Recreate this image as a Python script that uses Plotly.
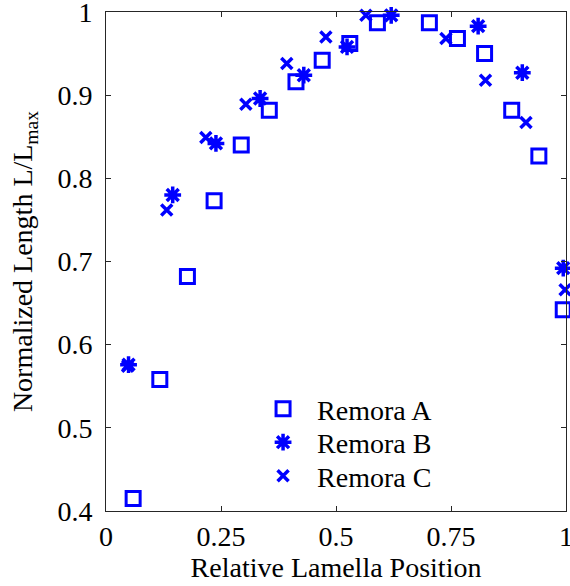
import plotly.graph_objects as go

# Remora A (squares)
a_x = [0.059, 0.117, 0.177, 0.235, 0.294, 0.355, 0.413, 0.470, 0.530, 0.590, 0.703, 0.764, 0.823, 0.882, 0.941, 0.994]
a_y = [0.415, 0.558, 0.682, 0.773, 0.840, 0.882, 0.916, 0.942, 0.962, 0.987, 0.987, 0.968, 0.950, 0.882, 0.827, 0.642]
# Remora B (asterisks)
b_x = [0.049, 0.145, 0.239, 0.335, 0.430, 0.524, 0.620, 0.809, 0.905, 0.994]
b_y = [0.576, 0.780, 0.842, 0.896, 0.924, 0.958, 0.996, 0.983, 0.927, 0.692]
# Remora C (crosses)
c_x = [0.047, 0.132, 0.217, 0.304, 0.393, 0.478, 0.565, 0.739, 0.825, 0.913, 0.998]
c_y = [0.574, 0.762, 0.849, 0.889, 0.938, 0.970, 0.996, 0.968, 0.918, 0.867, 0.666]

x_ticks = [0, 0.25, 0.5, 0.75, 1]
x_tick_labels = ["0", "0.25", "0.5", "0.75", "1"]
y_ticks = [0.4, 0.5, 0.6, 0.7, 0.8, 0.9, 1.0]
y_tick_labels = ["0.4", "0.5", "0.6", "0.7", "0.8", "0.9", "1"]

BLUE = "rgb(0,0,255)"
FONT = "Liberation Serif"
FS = 28

fig = go.Figure()
fig.add_trace(go.Scatter(x=a_x, y=a_y, mode="markers", name="Remora A", cliponaxis=False, legend="legend",
                         marker=dict(symbol="square-open", size=14, color=BLUE, line=dict(width=3, color=BLUE))))
fig.add_trace(go.Scatter(x=b_x, y=b_y, mode="markers", name="Remora B", cliponaxis=False, legend="legend2",
                         marker=dict(symbol="asterisk-open", size=14, color=BLUE, line=dict(width=3.5, color=BLUE))))
fig.add_trace(go.Scatter(x=c_x, y=c_y, mode="markers", name="Remora C", cliponaxis=False, legend="legend3",
                         marker=dict(symbol="x-thin-open", size=11, color=BLUE, line=dict(width=3.5, color=BLUE))))

axis_common = dict(showline=True, linecolor="#262626", linewidth=1, mirror="ticks",
                   ticks="inside", ticklen=5, tickcolor="#262626", showgrid=False, zeroline=False,
                   ticklabeloverflow="allow", automargin=False)

leg_common = dict(xanchor="left", yanchor="middle", bgcolor="rgba(0,0,0,0)",
                  font=dict(family=FONT, size=FS), itemwidth=58)

fig.update_layout(
    width=570, height=586,
    margin=dict(l=106, r=4, t=12, b=75),
    plot_bgcolor="white", paper_bgcolor="white",
    font=dict(family=FONT, color="black", size=FS),
    xaxis=dict(range=[0, 1], tickvals=x_ticks, ticktext=x_tick_labels,
               tickfont=dict(family=FONT, size=FS), ticklabelstandoff=0,
               title=dict(text="Relative Lamella Position", font=dict(family=FONT, size=FS), standoff=4),
               **axis_common),
    yaxis=dict(range=[0.4, 1], tickvals=y_ticks, ticktext=y_tick_labels,
               tickfont=dict(family=FONT, size=FS), ticklabelstandoff=7,
               title=dict(text="Normalized Length L/L<sub>max</sub>", font=dict(family=FONT, size=FS), standoff=16),
               **axis_common),
    legend=dict(x=0.311, y=0.2044, **leg_common),
    legend2=dict(x=0.311, y=0.1373, **leg_common),
    legend3=dict(x=0.311, y=0.0701, **leg_common),
    showlegend=True,
)

fig.write_html("out.html", config={"displayModeBar": False},
               post_script="document.body.style.margin='0';document.body.style.overflow='hidden';")
